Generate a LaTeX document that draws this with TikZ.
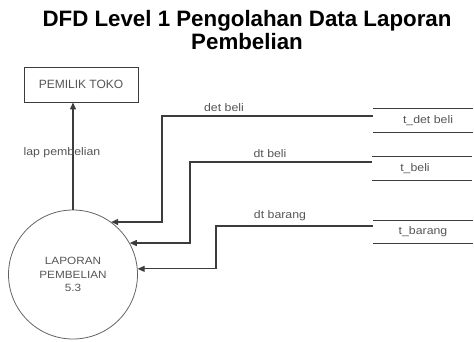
\documentclass[tikz,border=0pt]{standalone}
\usepackage{fontspec}
\setmainfont{Liberation Sans}
\usetikzlibrary{arrows.meta}
\definecolor{ink}{HTML}{3C3C3C}
\definecolor{txt}{HTML}{555555}
\newfontfamily\widesans[FakeStretch=1.12]{Liberation Sans}
\begin{document}
\begin{tikzpicture}[x=1pt,y=-1pt,
  titletext/.style={font=\fontsize{22.3}{24}\selectfont\bfseries, text=black, inner sep=0pt, anchor=base},
  entity/.style={draw=ink, line width=0.9pt, minimum width=114pt, minimum height=35pt, inner sep=0pt,
    font=\fontsize{12}{14}\selectfont, text=txt},
  process/.style={circle, draw=ink!80, line width=0.8pt, minimum size=129pt, inner sep=0pt,
    align=center, font=\widesans\fontsize{10.5}{13.5}\selectfont, text=txt},
  store/.style={minimum width=100pt, minimum height=23pt, inner sep=0pt,
    font=\widesans\fontsize{11}{13}\selectfont, text=txt,
    append after command={
      \pgfextra{\draw[ink, line width=0.9pt] (\tikzlastnode.north west) -- (\tikzlastnode.north east);
                \draw[ink, line width=0.9pt] (\tikzlastnode.south west) -- (\tikzlastnode.south east);}}},
  flowlabel/.style={font=\widesans\fontsize{11}{13}\selectfont, text=txt, inner sep=0pt},
  flow/.style={draw=ink, line width=1.1pt, -{Triangle[length=7pt,width=6pt]}}
]
\useasboundingbox (0,0) rectangle (474,341);

% heading
\node[titletext] (t1) at (247,26) {DFD Level 1 Pengolahan Data Laporan};
\node[titletext] (t2) at (247,49.5) {Pembelian};

% external entity and process
\node[entity] (owner) at (81,84.5) {PEMILIK TOKO};
\node[process] (proc) at (73,274.5) {LAPORAN\\PEMBELIAN\\5.3};

% data stores
\node[store] (s1) at (423,120.5) {\hspace*{10pt}t\_det beli};
\node[store] (s2) at (422,168.5) {t\_beli\hspace*{14pt}};
\node[store] (s3) at (423,232) {t\_barang};

% report flow to the owner
\draw[flow] (proc.north) -- (proc.north |- owner.south);
\node[flowlabel] (lbl0) at (62,153) {lap pembelian};

% flows from the stores into the process
\draw[flow] ([yshift=4.5pt]s1.west) -- (162,116) |- (proc.54.5);
\node[flowlabel] (lbl1) at (224,107.5) {det beli};

\draw[flow] ([yshift=6.5pt]s2.west) -- (190,162) |- (proc.29.2);
\node[flowlabel] (lbl2) at (270,154) {dt beli};

\draw[flow] ([yshift=6pt]s3.west) -- (216,226) |- (proc.5.8);
\node[flowlabel] (lbl3) at (280,216) {dt barang};
\end{tikzpicture}
\end{document}
